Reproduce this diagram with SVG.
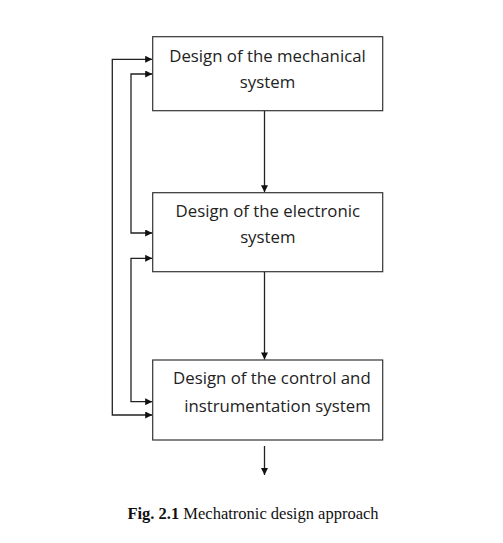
<svg xmlns="http://www.w3.org/2000/svg" width="503" height="543" viewBox="0 0 503 543">
<style>
.box{fill:#fff;stroke:#333;stroke-width:1.2}
.t{font-family:"Open Sans","Liberation Sans",sans-serif;font-size:16.8px;fill:#222}
.c{fill:none;stroke:#222;stroke-width:1.3}
.cap{font-family:"Liberation Serif","Times New Roman",serif;font-size:16.5px;fill:#111}
</style>
<defs>
<marker id="ah" viewBox="0 0 10 10" refX="10" refY="5" markerWidth="8" markerHeight="7" markerUnits="userSpaceOnUse" orient="auto-start-reverse">
<path d="M0,0 L10,5 L0,10 z" fill="#111"/>
</marker>
</defs>
<rect width="503" height="543" fill="#fff"/>
<g id="connectors">
<path class="c" d="M264.5,110.7 V192.2" marker-end="url(#ah)"/>
<path class="c" d="M264.5,271.7 V359.5" marker-end="url(#ah)"/>
<path class="c" d="M264.5,446 V475" marker-end="url(#ah)"/>
<path class="c" d="M152.2,59.3 H112.3 V415 H152.2" marker-start="url(#ah)" marker-end="url(#ah)"/>
<path class="c" d="M152.2,74 H131 V233 H152.2" marker-start="url(#ah)" marker-end="url(#ah)"/>
<path class="c" d="M152.2,258.3 H131 V401.7 H152.2" marker-start="url(#ah)" marker-end="url(#ah)"/>
</g>
<g id="node-mechanical">
<rect class="box" x="152.7" y="36.7" width="230" height="74"/>
<text class="t" x="267.5" y="61.7" text-anchor="middle">Design of the mechanical</text>
<text class="t" x="267.5" y="88.3" text-anchor="middle">system</text>
</g>
<g id="node-electronic">
<rect class="box" x="152.7" y="192.7" width="230" height="79"/>
<text class="t" x="267.8" y="216.7" text-anchor="middle">Design of the electronic</text>
<text class="t" x="267.8" y="243.3" text-anchor="middle">system</text>
</g>
<g id="node-control">
<rect class="box" x="152.7" y="360" width="230" height="80"/>
<text class="t" x="370.7" y="384" text-anchor="end">Design of the control and</text>
<text class="t" x="370.7" y="411.7" text-anchor="end">instrumentation system</text>
</g>
<text class="cap" x="253" y="519" text-anchor="middle"><tspan font-weight="bold">Fig. 2.1</tspan> Mechatronic design approach</text>
</svg>
